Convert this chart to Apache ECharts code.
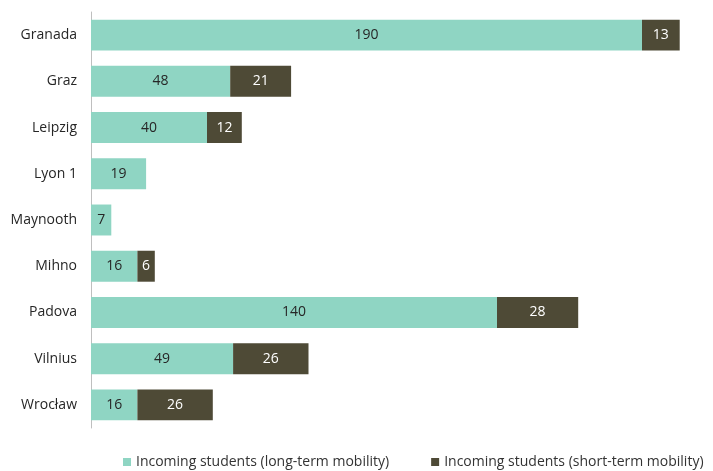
<!DOCTYPE html>
<html><head><meta charset="utf-8">
<script src="https://cdn.jsdelivr.net/npm/echarts@6/dist/echarts.min.js"></script>
<style>html,body{margin:0;padding:0;background:#fff}#c{width:713px;height:471px}</style>
</head><body><div id="c"></div>
<script>
const categories = ["Granada","Graz","Leipzig","Lyon 1","Maynooth","Mihno","Padova","Vilnius","Wrocław"];
const longTerm = [190,48,40,19,7,16,140,49,16];
const shortTerm = [13,21,12,null,null,6,28,26,26];
const seriesNames = ["Incoming students (long-term mobility)","Incoming students (short-term mobility)"];

const chart = echarts.init(document.getElementById('c'));
const font = "'Open Sans', sans-serif";
chart.setOption({
  animation:false,
  textStyle:{fontFamily:font},
  grid:{left:91,right:13,top:12,bottom:43},
  legend:{top:450,left:118,itemWidth:8,itemHeight:8,itemGap:42,icon:'rect',
    textStyle:{fontSize:14,color:'#333333',fontFamily:font},data:seriesNames},
  xAxis:{type:'value',min:0,max:210,show:false},
  yAxis:{type:'category',inverse:true,data:categories,
    axisLine:{show:true,lineStyle:{color:'#bfbfbf',width:1}},axisTick:{show:false},
    axisLabel:{fontSize:14,color:'#262626',margin:14,fontFamily:font}},
  series:[
    {name:seriesNames[0],type:'bar',stack:'s',data:longTerm,barCategoryGap:'33%',
     itemStyle:{color:'#8fd5c3'},
     label:{show:true,position:'inside',color:'#262626',fontSize:14,fontFamily:font}},
    {name:seriesNames[1],type:'bar',stack:'s',data:shortTerm,
     itemStyle:{color:'#4e4a36'},
     label:{show:true,position:'inside',color:'#ffffff',fontSize:14,fontFamily:font}}
  ]
});
</script></body></html>
